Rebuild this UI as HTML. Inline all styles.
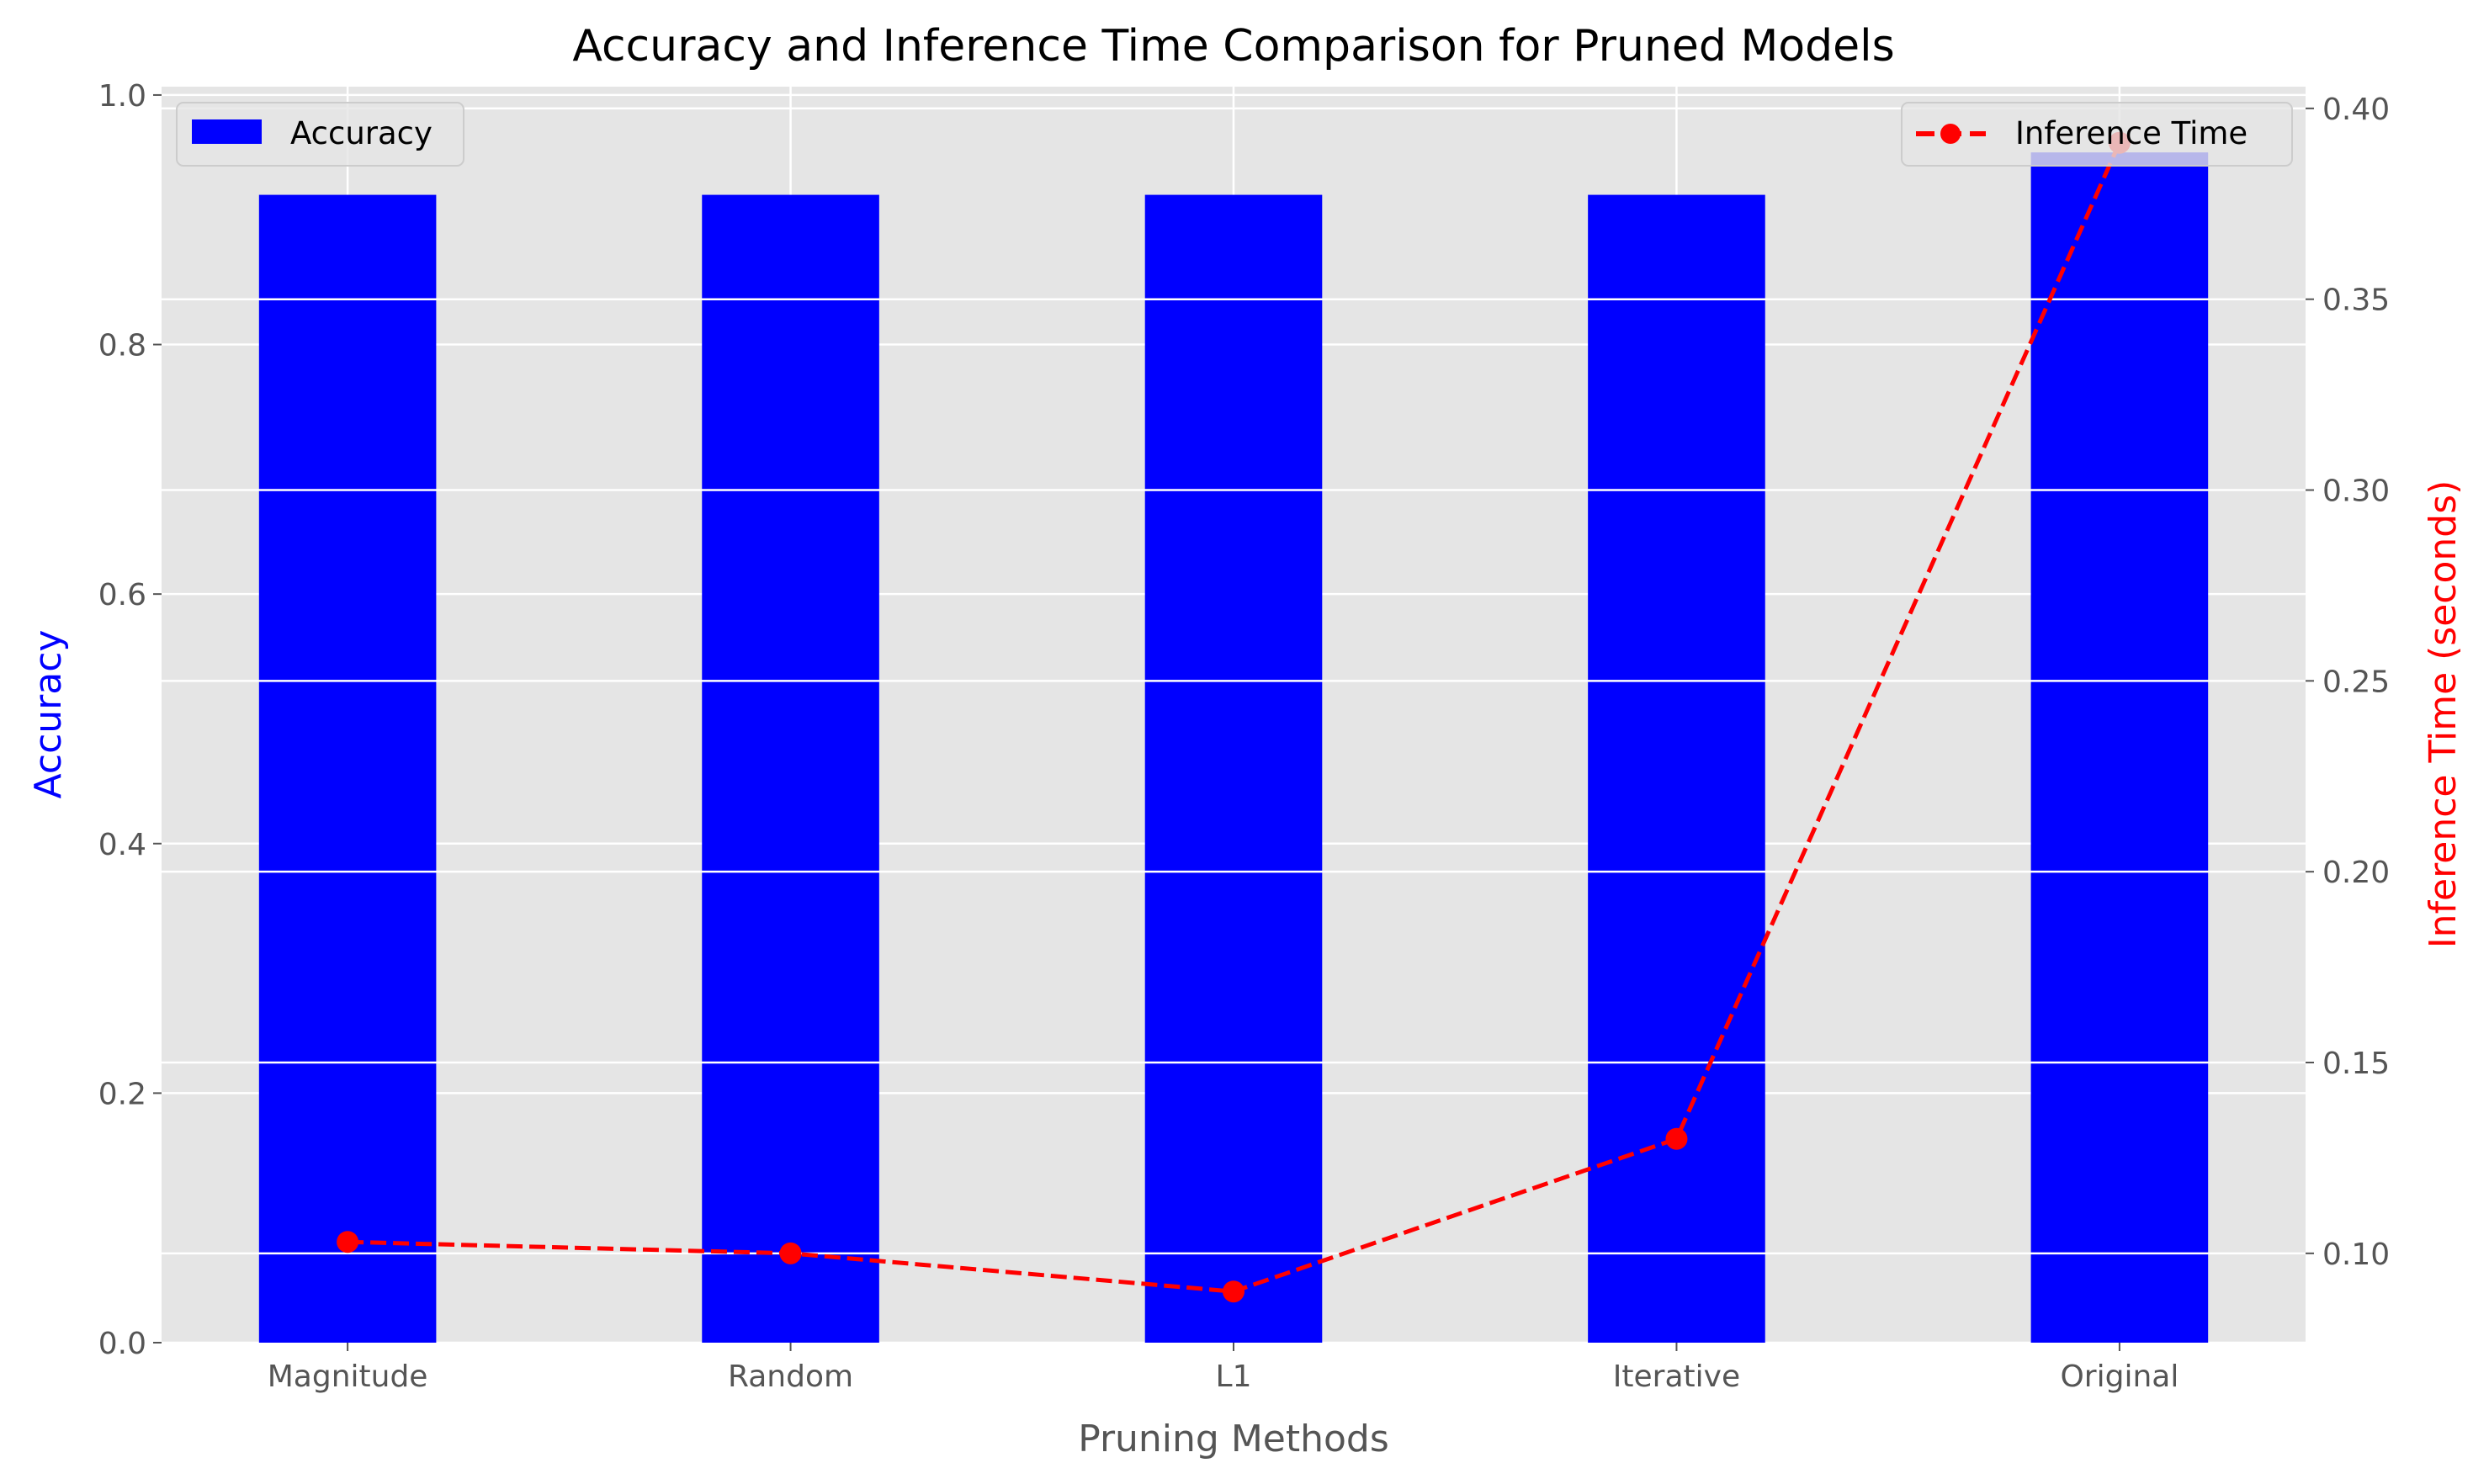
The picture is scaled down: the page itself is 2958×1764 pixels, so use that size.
<!DOCTYPE html>
<html><head><meta charset="utf-8"><style>
html,body{margin:0;padding:0;background:#fff;}
svg{display:block;font-family:"DejaVu Sans","Liberation Sans",sans-serif;}
</style></head><body>
<svg id="chart" width="2958" height="1764" viewBox="0 0 2958 1764" xmlns="http://www.w3.org/2000/svg">
<rect x="192" y="103" width="2548" height="1493" fill="#e5e5e5"/>
<g id="gridL"></g><g id="bars"></g><g id="gridR"></g><g id="line"></g><g id="axes"></g>
<text x="1466" y="72" font-size="52" text-anchor="middle" fill="#000">Accuracy and Inference Time Comparison for Pruned Models</text>
<text x="1466" y="1725" font-size="44" text-anchor="middle" fill="#555">Pruning Methods</text>
<text transform="translate(72,849) rotate(-90)" font-size="44" text-anchor="middle" fill="#0000ff">Accuracy</text>
<text transform="translate(2918,849) rotate(-90)" font-size="44" text-anchor="middle" fill="#ff0000">Inference Time (seconds)</text>
<g>
<rect x="210" y="122" width="341" height="75" rx="8" fill="#e5e5e5" fill-opacity="0.8" stroke="#ccc" stroke-width="2"/>
<rect x="228" y="142" width="83" height="29" fill="#0000ff"/>
<text x="345" y="171" font-size="37" fill="#000">Accuracy</text>
</g>
<g>
<rect x="2260" y="122" width="464" height="75" rx="8" fill="#e5e5e5" fill-opacity="0.8" stroke="#ccc" stroke-width="2"/>
<line x1="2277" y1="159" x2="2360" y2="159" stroke="#ff0000" stroke-width="6" stroke-dasharray="22,10"/>
<circle cx="2318" cy="159" r="12" fill="#ff0000"/>
<text x="2395" y="171" font-size="37" fill="#000">Inference Time</text>
</g>
</svg>
<script>
const categories = ["Magnitude","Random","L1","Iterative","Original"];
const accuracy = [0.92,0.92,0.92,0.92,0.954];
const inferenceTime = [0.103,0.100,0.090,0.130,0.391];
const accTicks = [0.0,0.2,0.4,0.6,0.8,1.0];
const timeTicks = [0.10,0.15,0.20,0.25,0.30,0.35,0.40];

const L=192,R=2740,T=103,B=1596;
const NS="http://www.w3.org/2000/svg";
const xs=i=>L+(i+0.42)/4.84*(R-L);
const yA=v=>B-v/1.0067*(B-T);
const yT=v=>B-(v-0.0766)/(0.4057-0.0766)*(B-T);
function mk(tag,attrs,parent,txt){const e=document.createElementNS(NS,tag);for(const k in attrs)e.setAttribute(k,attrs[k]);if(txt!==undefined)e.textContent=txt;document.getElementById(parent).appendChild(e);return e;}

accTicks.forEach(v=>{
  const g=mk('line',{x1:L,x2:R,y1:yA(v),y2:yA(v),stroke:'#fff','stroke-width':2.5},'gridL');
  
  
  const t=mk('line',{x1:L-10,x2:L,y1:yA(v),y2:yA(v),stroke:'#555','stroke-width':2},'axes');
  
  
  const l=mk('text',{x:L-18,y:yA(v)+13,'font-size':36,'text-anchor':'end',fill:'#555'},'axes',v.toFixed(1));
  
  
});
categories.forEach((c,i)=>{
  const g=mk('line',{x1:xs(i),x2:xs(i),y1:T,y2:B,stroke:'#fff','stroke-width':2.5},'gridL');
  
  
  const w=0.4/4.84*(R-L);
  const b=mk('rect',{x:xs(i)-w/2,y:yA(accuracy[i]),width:w,height:B-yA(accuracy[i]),fill:'#0000ff'},'bars');
  
  
  const t=mk('line',{x1:xs(i),x2:xs(i),y1:B,y2:B+10,stroke:'#555','stroke-width':2},'axes');
  
  
  const l=mk('text',{x:xs(i),y:B+52,'font-size':36,'text-anchor':'middle',fill:'#555'},'axes',c);
  
  
});
timeTicks.forEach(v=>{
  const g=mk('line',{x1:L,x2:R,y1:yT(v),y2:yT(v),stroke:'#fff','stroke-width':2.5},'gridR');
  
  
  const t=mk('line',{x1:R,x2:R+10,y1:yT(v),y2:yT(v),stroke:'#555','stroke-width':2},'axes');
  
  
  const l=mk('text',{x:R+20,y:yT(v)+13,'font-size':36,fill:'#555'},'axes',v.toFixed(2));
  
  
});
const pts=inferenceTime.map((v,i)=>xs(i)+','+yT(v)).join(' ');
const pl=mk('polyline',{points:pts,fill:'none',stroke:'#ff0000','stroke-width':5,'stroke-dasharray':'19,8'},'line');


inferenceTime.forEach((v,i)=>{
  const c=mk('circle',{cx:xs(i),cy:yT(v),r:13,fill:'#ff0000'},'line');
  
  
});
</script>
</body></html>
